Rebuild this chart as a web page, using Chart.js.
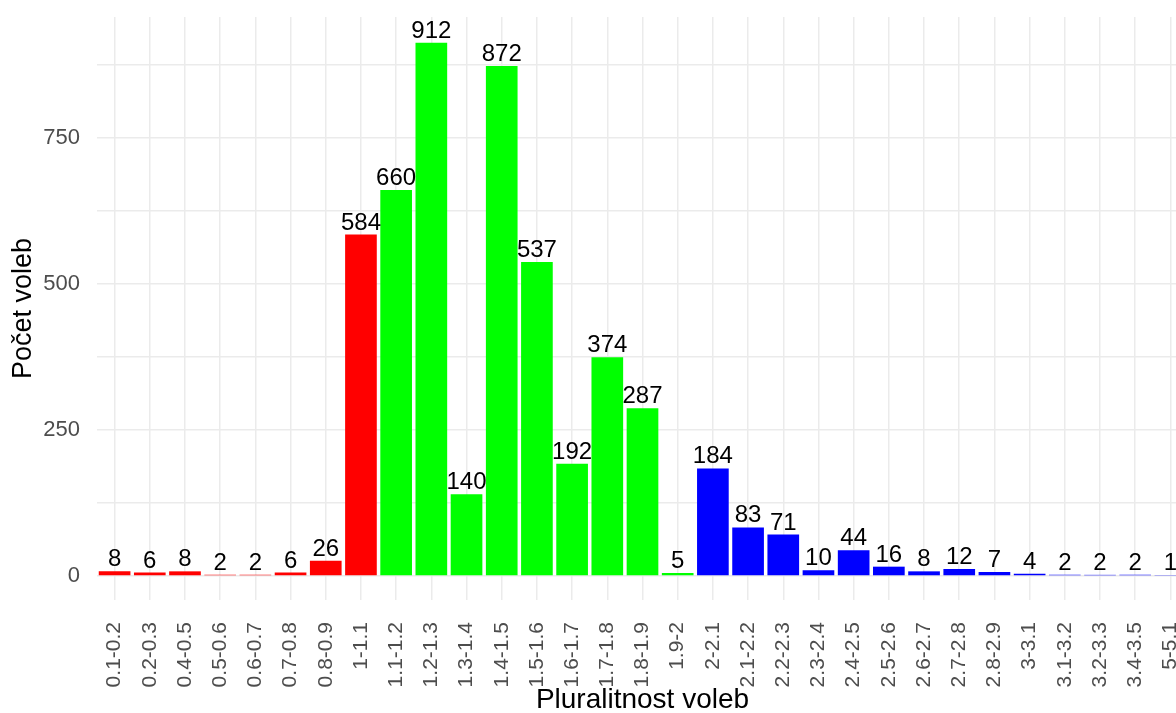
<!DOCTYPE html>
<html>
<head>
<meta charset="utf-8">
<script src="https://cdn.jsdelivr.net/npm/chart.js@4/dist/chart.umd.min.js"></script>
<style>
    html, body { margin: 0; padding: 0; overflow: hidden; background: #fff; }
    #wrap { width: 1200px; height: 713px; }
</style>
</head>
<body>
<div id="wrap"><canvas id="pluralChart" width="1200" height="713"></canvas></div>
<script>
const categories = ['0.1-0.2', '0.2-0.3', '0.4-0.5', '0.5-0.6', '0.6-0.7', '0.7-0.8', '0.8-0.9', '1-1.1',
    '1.1-1.2', '1.2-1.3', '1.3-1.4', '1.4-1.5', '1.5-1.6', '1.6-1.7', '1.7-1.8', '1.8-1.9', '1.9-2',
    '2-2.1', '2.1-2.2', '2.2-2.3', '2.3-2.4', '2.4-2.5', '2.5-2.6', '2.6-2.7', '2.7-2.8', '2.8-2.9',
    '3-3.1', '3.1-3.2', '3.2-3.3', '3.4-3.5', '5-5.1'];
const counts = [8, 6, 8, 2, 2, 6, 26, 584,
    660, 912, 140, 872, 537, 192, 374, 287, 5,
    184, 83, 71, 10, 44, 16, 8, 12, 7,
    4, 2, 2, 2, 1];
const yTickLabels = [0, 250, 500, 750];
const yGridValues = [0, 125, 250, 375, 500, 625, 750, 875];

// red below 1.1, green up to 2, blue from 2 on
function barColor(label) {
    const low = parseFloat(label.split('-')[0]);
    if (low < 1.1) return '#ff0000';
    if (low < 2) return '#00ff00';
    return '#0000ff';
}

// value labels above the bars
const barLabels = {
    id: 'barLabels',
    afterDatasetsDraw(chart) {
        const ctx = chart.ctx;
        const meta = chart.getDatasetMeta(0);
        ctx.save();
        ctx.font = '24px "Liberation Sans", Arial, sans-serif';
        ctx.fillStyle = '#000';
        ctx.textAlign = 'center';
        ctx.textBaseline = 'alphabetic';
        meta.data.forEach((bar, i) => {
            ctx.fillText(String(counts[i]), bar.x, bar.y - 5);
        });
        ctx.restore();
    }
};

const ctx = document.getElementById('pluralChart').getContext('2d');
new Chart(ctx, {
    type: 'bar',
    data: {
        labels: categories,
        datasets: [{
            label: 'Počet voleb',
            data: counts,
            backgroundColor: categories.map(barColor),
            borderWidth: 0,
            barPercentage: 0.9,
            categoryPercentage: 1.0
        }]
    },
    options: {
        responsive: false,
        animation: false,
        layout: { padding: { top: 17, right: 12, bottom: 0, left: 0 } },
        plugins: {
            legend: { display: false },
            tooltip: { enabled: false }
        },
        scales: {
            x: {
                offset: true,
                grid: { offset: false, color: '#ebebeb', lineWidth: 1.5, drawTicks: false },
                border: { display: false },
                ticks: {
                    autoSkip: false,
                    maxRotation: 90,
                    minRotation: 90,
                    padding: 22,
                    color: '#4d4d4d',
                    font: { family: '"Liberation Sans", Arial, sans-serif', size: 21 }
                },
                title: {
                    display: true,
                    text: 'Pluralitnost voleb',
                    color: '#000',
                    padding: { top: 0, bottom: -4 },
                    font: { family: '"Liberation Sans", Arial, sans-serif', size: 28 }
                },
                afterFit: scale => {
                    scale.height = 113;
                    scale.paddingLeft = 0;
                    scale.paddingRight = 0;
                }
            },
            y: {
                min: -41,
                max: 956,
                afterBuildTicks: scale => { scale.ticks = yGridValues.map(v => ({ value: v })); },
                grid: { color: '#ebebeb', lineWidth: 1.5, drawTicks: false },
                border: { display: false },
                ticks: {
                    padding: 17,
                    color: '#4d4d4d',
                    font: { family: '"Liberation Sans", Arial, sans-serif', size: 22 },
                    callback: v => yTickLabels.includes(v) ? String(v) : ''
                },
                title: {
                    display: true,
                    text: 'Počet voleb',
                    color: '#000',
                    padding: { top: 7, bottom: 0 },
                    font: { family: '"Liberation Sans", Arial, sans-serif', size: 27 }
                },
                afterFit: scale => {
                    scale.width = 97;
                    scale.paddingTop = 0;
                    scale.paddingBottom = 0;
                }
            }
        }
    },
    plugins: [barLabels]
});
</script>
</body>
</html>
